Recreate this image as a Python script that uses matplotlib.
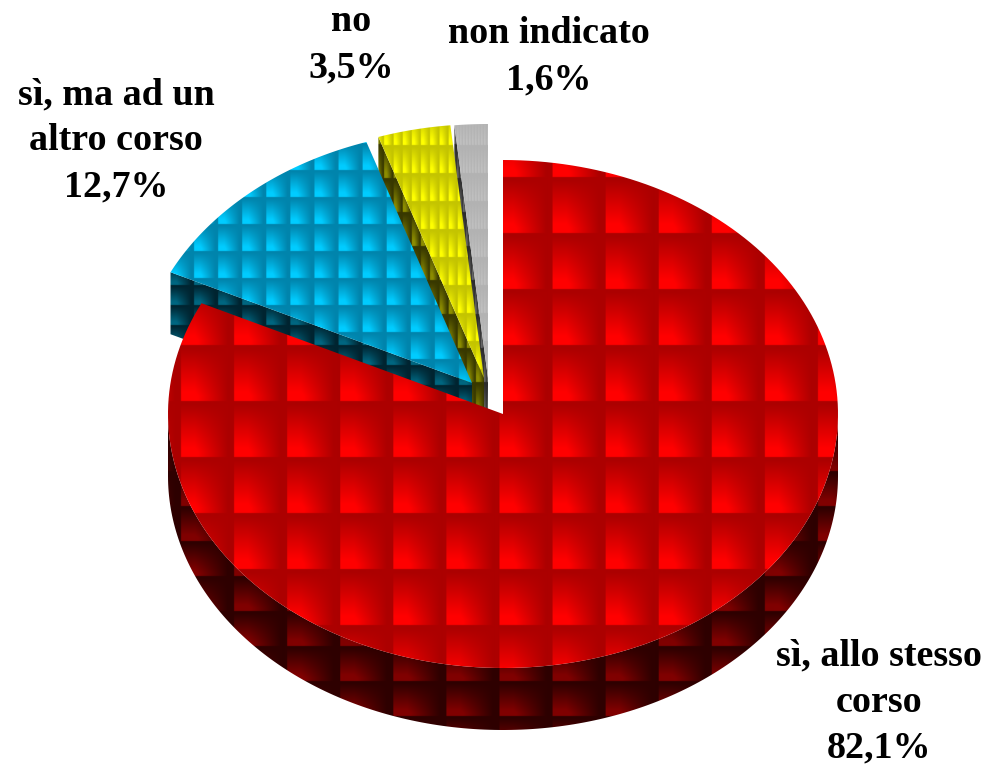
import numpy as np
import matplotlib
matplotlib.use("Agg")
import matplotlib.pyplot as plt
from matplotlib.patches import Polygon

# data
categories = ["sì, allo stesso\ncorso", "sì, ma ad un\naltro corso", "no", "non indicato"]
values = [82.1, 12.7, 3.5, 1.6]

# pie geometry, in pixels of the picture
cx, cy = 503, 414
rx, ry = 335, 254
depth = 62
offsets = [(0, 0), (-31, -31), (-19, -36), (-15, -36)]

# texture: tile size and one tile corner, dark and bright colour
top_tex = [
    dict(size=(53, 56), phase=(181, 177), dark=(172, 0, 0), bright=(255, 0, 0)),
    dict(size=(24, 27), phase=(194, 170), dark=(0, 132, 172), bright=(0, 204, 255)),
    dict(size=(9.1, 28), phase=(393.3, 145), dark=(196, 196, 0), bright=(255, 255, 0)),
    dict(size=(3, 28), phase=(454, 145), dark=(178, 178, 178), bright=(194, 194, 194)),
]
side_tex = [
    dict(size=(53, 35), phase=(181, 541), dark=(46, 0, 0), bright=(128, 0, 0)),
    dict(size=(24, 20), phase=(194, 285), dark=(0, 36, 48), bright=(0, 102, 128)),
    dict(size=(9.1, 34), phase=(393.3, 178), dark=(56, 56, 0), bright=(140, 140, 0)),
    dict(size=(3, 34), phase=(454, 178), dark=(44, 44, 44), bright=(110, 110, 110)),
]

label_pos = [(879, 702), (116, 141), (351, 45), (549, 57)]

plt.rcParams["font.family"] = ["Liberation Serif", "DejaVu Serif"]

fig = plt.figure(figsize=(9.88, 7.67), dpi=100)
ax = fig.add_axes([0, 0, 1, 1])


def ellipse_pts(a0, a1, x0, y0):
    t = np.radians(np.linspace(a0, a1, 200))
    return np.column_stack([x0 + rx * np.sin(t), y0 - ry * np.cos(t)])


def tile_fill(poly, tex):
    # bitmap of gradient tiles, clipped to the polygon
    xs, ys = poly[:, 0], poly[:, 1]
    x0, x1 = np.floor(xs.min()) - 1, np.ceil(xs.max()) + 1
    y0, y1 = np.floor(ys.min()) - 1, np.ceil(ys.max()) + 1
    gx = np.arange(x0, x1, 0.5) + 0.25
    gy = np.arange(y0, y1, 0.5) + 0.25
    xx, yy = np.meshgrid(gx, gy)
    u = ((xx - tex["phase"][0]) / tex["size"][0]) % 1
    w = ((yy - tex["phase"][1]) / tex["size"][1]) % 1
    v = np.clip((w - 0.06) / 0.85, 0, 1) * np.clip((0.88 - u) / 0.62, 0, 1)
    v = np.clip(v * 1.1, 0, 1)[..., None]
    rgb = (np.array(tex["dark"]) + (np.array(tex["bright"]) - np.array(tex["dark"])) * v) / 255
    patch = Polygon(poly, closed=True, facecolor="none", edgecolor="none")
    ax.add_patch(patch)
    im = ax.imshow(rgb, extent=(x0, x1, y1, y0), aspect="auto", interpolation="bilinear")
    im.set_clip_path(patch)


fractions = np.array(values) / sum(values) * 360
ends = np.cumsum(fractions)
starts = ends - fractions

# back slices first, red one on top
for i in [3, 2, 1, 0]:
    x0 = cx + offsets[i][0]
    y0 = cy + offsets[i][1]
    arc = ellipse_pts(starts[i], ends[i], x0, y0)
    top = np.vstack([[x0, y0], arc])
    if i == 0:
        # outer rim of the big slice
        rim = ellipse_pts(90, 270, x0, y0)
        side = np.vstack([rim, (rim + [0, depth])[::-1]])
    else:
        # cut face at the start of the slice
        edge = np.array([arc[0], [x0, y0]])
        side = np.vstack([edge, (edge + [0, depth])[::-1]])
    tile_fill(side, side_tex[i])
    tile_fill(top, top_tex[i])

for name, val, (lx, ly) in zip(categories, values, label_pos):
    txt = name + "\n" + f"{val:.1f}".replace(".", ",") + "%"
    ax.text(lx, ly, txt, ha="center", va="center", fontsize=27.4, fontweight="bold",
            color="black", linespacing=1.42)

ax.set_xlim(0, 988)
ax.set_ylim(767, 0)
ax.axis("off")
fig.savefig("out.png", dpi=100)
